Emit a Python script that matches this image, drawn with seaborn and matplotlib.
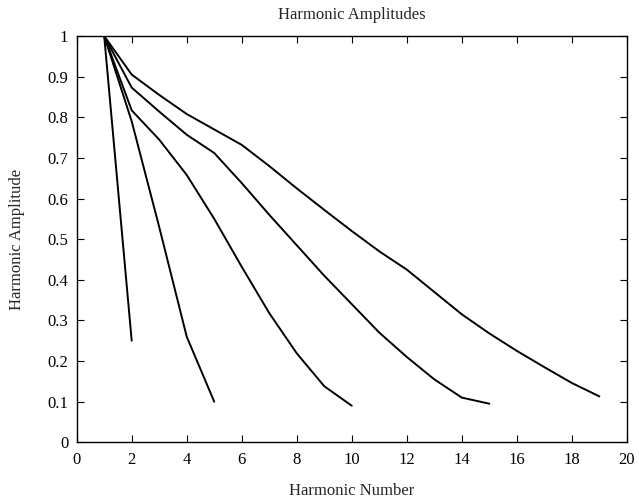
import matplotlib
matplotlib.use("Agg")
import matplotlib.pyplot as plt
import seaborn as sns
import pandas as pd

# Data
x_a = [1, 2]
y_a = [1.0, 0.25]
x_b = [1, 2, 3, 4, 5]
y_b = [1.0, 0.79, 0.53, 0.26, 0.10]
x_c = [1, 2, 3, 4, 5, 6, 7, 8, 9, 10]
y_c = [1.0, 0.817, 0.745, 0.658, 0.55, 0.432, 0.318, 0.219, 0.138, 0.09]
x_d = list(range(1, 16))
y_d = [1.0, 0.873, 0.814, 0.757, 0.712, 0.638, 0.56, 0.485, 0.41, 0.34, 0.27, 0.21, 0.155, 0.11, 0.095]
x_e = list(range(1, 20))
y_e = [1.0, 0.905, 0.855, 0.808, 0.77, 0.732, 0.68, 0.625, 0.572, 0.52, 0.47, 0.425, 0.37, 0.315, 0.268, 0.225, 0.185, 0.146, 0.113]

x_ticks = list(range(0, 21, 2))
y_ticks = [0, 0.1, 0.2, 0.3, 0.4, 0.5, 0.6, 0.7, 0.8, 0.9, 1]
y_tick_labels = ["0", "0.1", "0.2", "0.3", "0.4", "0.5", "0.6", "0.7", "0.8", "0.9", "1"]

frames = []
for name, xs, ys in [("A", x_a, y_a), ("B", x_b, y_b), ("C", x_c, y_c),
                     ("D", x_d, y_d), ("E", x_e, y_e)]:
    frames.append(pd.DataFrame({"n": xs, "amp": ys, "series": name}))
df = pd.concat(frames, ignore_index=True)

sns.set_style("ticks")
plt.rcParams["font.family"] = ["Liberation Serif", "DejaVu Serif"]
plt.rcParams["font.size"] = 12

fig = plt.figure(figsize=(6.39, 5.0), dpi=100)
ax = fig.add_axes([0.12, 0.1154, 0.861, 0.8126])

sns.lineplot(data=df, x="n", y="amp", hue="series", units="series", estimator=None,
             palette=["black"] * 5, legend=False, linewidth=1.4, ax=ax, sort=False)

ax.set_xlim(0, 20)
ax.set_ylim(0, 1)
ax.set_xticks(x_ticks)
ax.set_xticklabels([str(t) for t in x_ticks])
ax.set_yticks(y_ticks)
ax.set_yticklabels(y_tick_labels)
ax.tick_params(direction="in", top=True, right=True, length=5, width=0.8,
               labelsize=12, colors="black")
ax.tick_params(axis="x", pad=7)
ax.tick_params(axis="y", pad=6)
for s in ax.spines.values():
    s.set_visible(True)
    s.set_color("black")
    s.set_linewidth(1.0)

ax.set_title("Harmonic Amplitudes", fontsize=12, pad=12)
ax.set_xlabel("Harmonic Number", fontsize=12, labelpad=11)
ax.set_ylabel("Harmonic Amplitude", fontsize=12, labelpad=16)

fig.savefig("out.png", dpi=100)
